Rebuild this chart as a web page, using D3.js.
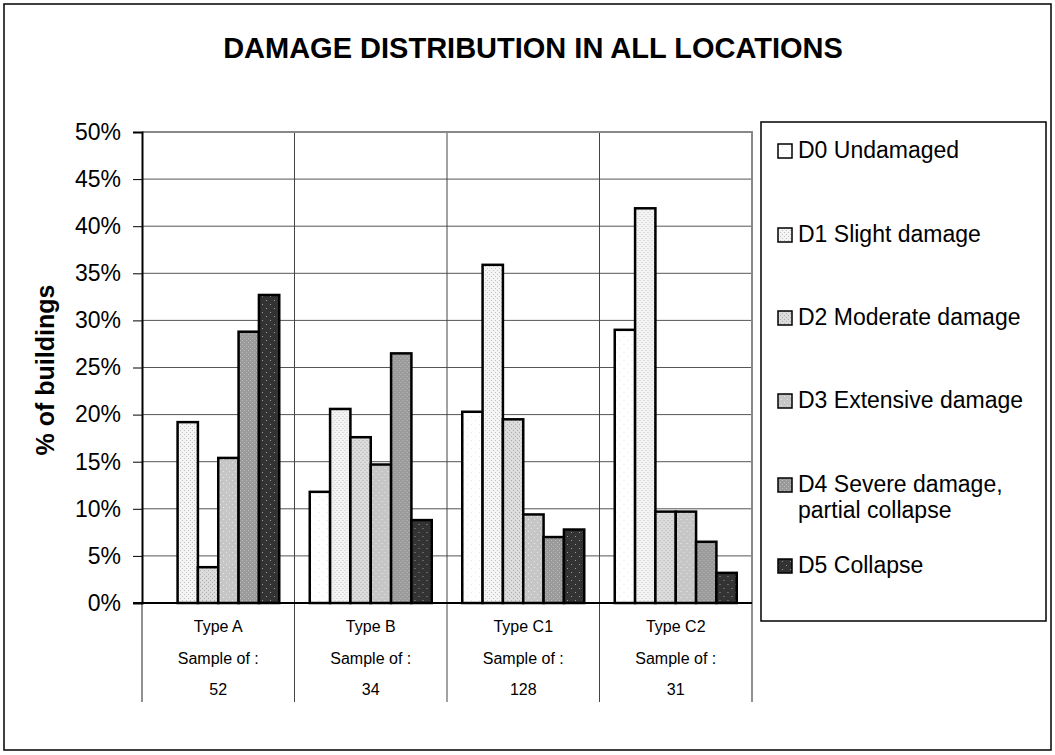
<!DOCTYPE html>
<html>
<head>
<meta charset="utf-8">
<script src="https://cdn.jsdelivr.net/npm/d3@7"></script>
<style>
  body { margin: 0; background: #fff; }
  text { font-family: Arial, "Liberation Sans", sans-serif; }
</style>
</head>
<body>
<svg id="chart" width="1055" height="755"></svg>
<script>
'use strict'

// data
var buildingTypes = ["Type A", "Type B", "Type C1", "Type C2"];
var sampleSizes = [52, 34, 128, 31];
var damageGrades = ["D0 Undamaged", "D1 Slight damage", "D2 Moderate damage",
    "D3 Extensive damage", "D4 Severe damage, partial collapse", "D5 Collapse"];
// percent of buildings per type, one array per damage grade
var d0Values = [0.0, 11.8, 20.3, 29.0];
var d1Values = [19.2, 20.6, 35.9, 41.9];
var d2Values = [3.8, 17.6, 19.5, 9.7];
var d3Values = [15.4, 14.7, 9.4, 9.7];
var d4Values = [28.8, 26.5, 7.0, 6.5];
var d5Values = [32.7, 8.8, 7.8, 3.2];
var yTicks = [0, 5, 10, 15, 20, 25, 30, 35, 40, 45, 50];

var seriesValues = [d0Values, d1Values, d2Values, d3Values, d4Values, d5Values];

var svg = d3.select("#chart");

// outer frame
svg.append("rect")
    .attr("x", 4).attr("y", 4).attr("width", 1047).attr("height", 746)
    .attr("fill", "#fff").attr("stroke", "#000").attr("stroke-width", 1.5);

// fill patterns, from light to dark
var defs = svg.append("defs");
var patternDefs = [
    {base: "#ffffff", dot: "#e4e4e4", step: 4},
    {base: "#f4f4f4", dot: "#c4c4c4", step: 2},
    {base: "#dcdcdc", dot: "#b0b0b0", step: 2},
    {base: "#c6c6c6", dot: "#e8e8e8", step: 3},
    {base: "#9a9a9a", dot: "#bdbdbd", step: 2},
    {base: "#333333", dot: "#9a9a9a", step: 4}
];
patternDefs.forEach(function(p, i){
    var pat = defs.append("pattern")
        .attr("id", "pat" + i)
        .attr("patternUnits", "userSpaceOnUse")
        .attr("width", p.step * 2).attr("height", p.step * 2);
    pat.append("rect").attr("width", p.step * 2).attr("height", p.step * 2).attr("fill", p.base);
    pat.append("rect").attr("x", 0).attr("y", 0).attr("width", 1).attr("height", 1).attr("fill", p.dot);
    pat.append("rect").attr("x", p.step).attr("y", p.step).attr("width", 1).attr("height", 1).attr("fill", p.dot);
});

// scales
var plotLeft = 142, plotRight = 752, plotTop = 132, plotBottom = 603;

var x0 = d3.scaleBand()
    .domain(buildingTypes)
    .range([plotLeft, plotRight]);

var x1 = d3.scaleBand()
    .domain(d3.range(damageGrades.length))
    .range([0, x0.bandwidth()])
    .paddingOuter(0.75);

var y = d3.scaleLinear()
    .domain([0, 50])
    .range([plotBottom, plotTop]);

// title
svg.append("text")
    .attr("x", 533).attr("y", 58)
    .attr("text-anchor", "middle")
    .attr("font-size", "29px").attr("font-weight", "bold")
    .text("DAMAGE DISTRIBUTION IN ALL LOCATIONS");

// horizontal gridlines
svg.append("g").selectAll("line")
    .data(yTicks.slice(1, -1))
    .enter().append("line")
    .attr("x1", plotLeft).attr("x2", plotRight)
    .attr("y1", function(d){ return y(d); })
    .attr("y2", function(d){ return y(d); })
    .attr("stroke", "#555").attr("stroke-width", 1);

// vertical category separators
svg.append("g").selectAll("line")
    .data(buildingTypes.slice(1))
    .enter().append("line")
    .attr("x1", function(d){ return x0(d); })
    .attr("x2", function(d){ return x0(d); })
    .attr("y1", plotTop).attr("y2", plotBottom + 99)
    .attr("stroke", "#444").attr("stroke-width", 1);

// plot border (top + right in gray)
svg.append("path")
    .attr("d", "M" + plotLeft + "," + plotTop + "H" + plotRight + "V" + plotBottom)
    .attr("fill", "none").attr("stroke", "#888").attr("stroke-width", 2);

// table lines under the plot
svg.append("line")
    .attr("x1", plotRight).attr("x2", plotRight)
    .attr("y1", plotBottom).attr("y2", plotBottom + 99)
    .attr("stroke", "#222").attr("stroke-width", 1);
svg.append("line")
    .attr("x1", plotLeft).attr("x2", plotLeft)
    .attr("y1", plotBottom).attr("y2", plotBottom + 99)
    .attr("stroke", "#222").attr("stroke-width", 1);

// bars
var groups = svg.append("g").selectAll("g")
    .data(buildingTypes)
    .enter().append("g")
    .attr("transform", function(d){ return "translate(" + x0(d) + ",0)"; });

groups.selectAll("rect")
    .data(function(d, i){
        return seriesValues.map(function(s, k){ return {grade: k, value: s[i]}; });
    })
    .enter().append("rect")
    .filter(function(d){ return d.value > 0; })
    .attr("x", function(d){ return x1(d.grade); })
    .attr("y", function(d){ return y(d.value); })
    .attr("width", x1.bandwidth())
    .attr("height", function(d){ return y(0) - y(d.value); })
    .attr("fill", function(d){ return "url(#pat" + d.grade + ")"; })
    .attr("stroke", "#000").attr("stroke-width", 2.5);

// y axis
var yAxis = svg.append("g")
    .attr("transform", "translate(" + plotLeft + ",0)")
    .call(d3.axisLeft(y).tickValues(yTicks).tickSize(9).tickPadding(12)
        .tickFormat(function(d){ return d + "%"; }));
yAxis.select(".domain").attr("stroke", "#000").attr("stroke-width", 2);
yAxis.selectAll(".tick line").attr("stroke", "#000");
yAxis.selectAll("text").attr("font-size", "23px").attr("fill", "#000")
    .attr("font-family", "Arial, 'Liberation Sans', sans-serif");

// x axis baseline
svg.append("line")
    .attr("x1", plotLeft - 9).attr("x2", plotRight)
    .attr("y1", plotBottom).attr("y2", plotBottom)
    .attr("stroke", "#000").attr("stroke-width", 2);

// y axis label
svg.append("text")
    .attr("transform", "translate(54,370) rotate(-90)")
    .attr("text-anchor", "middle")
    .attr("font-size", "25px").attr("font-weight", "bold")
    .text("% of buildings");

// category labels
var labels = svg.append("g").selectAll("g")
    .data(buildingTypes)
    .enter().append("g")
    .attr("transform", function(d){ return "translate(" + (x0(d) + x0.bandwidth() / 2) + ",0)"; });
labels.append("text").attr("y", 632).attr("text-anchor", "middle").attr("font-size", "16px")
    .text(function(d){ return d; });
labels.append("text").attr("y", 664).attr("text-anchor", "middle").attr("font-size", "16px")
    .text("Sample of :");
labels.append("text").attr("y", 695).attr("text-anchor", "middle").attr("font-size", "16px")
    .text(function(d, i){ return sampleSizes[i]; });

// legend
var legend = svg.append("g");
legend.append("rect")
    .attr("x", 761).attr("y", 122).attr("width", 285).attr("height", 499)
    .attr("fill", "#fff").attr("stroke", "#000").attr("stroke-width", 1.5);

var legendRowY = [158, 242, 325, 408, 492, 573];
var legendItems = legend.selectAll("g")
    .data(damageGrades)
    .enter().append("g")
    .attr("transform", function(d, i){ return "translate(778," + legendRowY[i] + ")"; });

legendItems.append("rect")
    .attr("x", 0).attr("y", -14).attr("width", 14).attr("height", 14)
    .attr("fill", function(d, i){ return "url(#pat" + i + ")"; })
    .attr("stroke", "#000").attr("stroke-width", 1.5);

legendItems.append("text")
    .attr("x", 20).attr("y", 0)
    .attr("font-size", "23px")
    .each(function(d){
        // split the long label on two lines like the reference
        var parts = d.indexOf(",") > 0 ? [d.slice(0, d.indexOf(",") + 1), d.slice(d.indexOf(",") + 2)] : [d];
        var t = d3.select(this);
        parts.forEach(function(p, k){
            t.append("tspan").attr("x", 20).attr("dy", k === 0 ? 0 : 26).text(p);
        });
    });
</script>
</body>
</html>
